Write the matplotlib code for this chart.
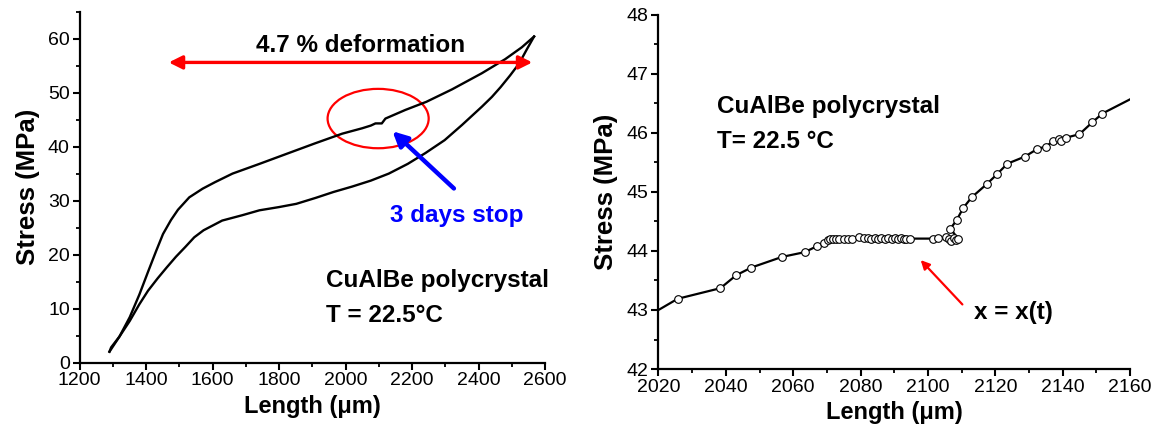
import matplotlib
matplotlib.use("Agg")
import matplotlib.pyplot as plt
from matplotlib.patches import Ellipse
from matplotlib.ticker import MultipleLocator

plt.rcParams['font.family'] = ['Liberation Sans', 'DejaVu Sans']

# ---- Left panel data: full loading / unloading cycle ----
load_x = [1290, 1320, 1351, 1380, 1406, 1430, 1451, 1475, 1496, 1530, 1570, 1607,
          1660, 1741, 1820, 1908, 1990, 2050, 2076, 2090, 2109, 2120, 2180, 2243,
          2320, 2410, 2480, 2530, 2567]
load_y = [2.0, 4.8, 8.4, 12.6, 16.8, 20.6, 23.8, 26.4, 28.3, 30.6, 32.2, 33.4,
          35.0, 36.8, 38.6, 40.6, 42.4, 43.4, 43.9, 44.3, 44.3, 45.2, 46.8, 48.3,
          50.6, 53.6, 56.2, 58.4, 60.4]
unload_x = [2567, 2545, 2522, 2495, 2466, 2440, 2410, 2350, 2298, 2240, 2187, 2130,
            2076, 2020, 1964, 1910, 1852, 1800, 1741, 1690, 1629, 1573, 1545, 1518,
            1490, 1462, 1435, 1406, 1380, 1351, 1320, 1295, 1290]
unload_y = [60.4, 58.0, 55.4, 53.2, 51.0, 49.2, 47.4, 44.0, 41.2, 38.8, 36.8, 35.0,
            33.7, 32.6, 31.6, 30.5, 29.4, 28.8, 28.2, 27.3, 26.3, 24.5, 23.2, 21.4,
            19.6, 17.6, 15.6, 13.3, 10.8, 7.7, 4.8, 2.8, 2.0]

# ---- Right panel data: zoom on the 3-day stop ----
line_x = [2020.0, 2025.7, 2038.4, 2043.1, 2047.6, 2056.7, 2063.4, 2067.0, 2069.2,
          2070.5, 2077.8, 2080.0, 2094.8, 2101.8, 2103.2, 2105.6, 2108.9, 2106.7,
          2108.5, 2110.5, 2113.0, 2117.6, 2120.5, 2123.6, 2128.8, 2132.5, 2135.0,
          2137.2, 2138.8, 2141.0, 2145.0, 2148.8, 2151.8, 2160.0]
line_y = [43.00, 43.19, 43.37, 43.59, 43.72, 43.90, 43.98, 44.08, 44.14,
          44.20, 44.20, 44.22, 44.21, 44.21, 44.22, 44.22, 44.21, 44.38,
          44.52, 44.73, 44.91, 45.14, 45.30, 45.48, 45.60, 45.73, 45.77,
          45.86, 45.89, 45.92, 45.98, 46.18, 46.33, 46.57]
pts_x = [2025.7, 2038.4, 2043.1, 2047.6, 2056.7, 2063.4, 2067.0, 2069.2,
         2070.2, 2071.0, 2071.8, 2072.6, 2073.6, 2075.0, 2076.2, 2077.6,
         2079.6, 2081.0, 2082.2, 2083.2, 2084.2, 2085.2, 2086.2, 2087.2,
         2088.2, 2089.2, 2090.2, 2091.2, 2092.0, 2092.8, 2093.6, 2094.6,
         2101.6, 2103.0, 2105.4, 2106.2, 2107.0, 2107.6, 2108.2, 2108.8,
         2106.7, 2108.5, 2110.5, 2113.0, 2117.6, 2120.5, 2123.6, 2128.8,
         2132.5, 2135.0, 2137.2, 2138.8, 2139.6, 2141.0, 2145.0, 2148.8, 2151.8]
pts_y = [43.19, 43.37, 43.59, 43.72, 43.90, 43.98, 44.08, 44.14,
         44.18, 44.20, 44.20, 44.20, 44.20, 44.20, 44.21, 44.21,
         44.23, 44.22, 44.22, 44.21, 44.22, 44.21, 44.22, 44.21,
         44.22, 44.21, 44.22, 44.21, 44.22, 44.21, 44.21, 44.20,
         44.21, 44.22, 44.24, 44.20, 44.17, 44.22, 44.19, 44.21,
         44.38, 44.52, 44.73, 44.91, 45.14, 45.30, 45.48, 45.60,
         45.73, 45.77, 45.86, 45.89, 45.87, 45.92, 45.98, 46.18, 46.33]

fig = plt.figure(figsize=(11.56, 4.33), dpi=100)
ax1 = fig.add_axes([0.0688, 0.1628, 0.4027, 0.8102])
ax2 = fig.add_axes([0.5696, 0.1478, 0.4079, 0.8176])

def style(ax):
    for s in ['top', 'right']:
        ax.spines[s].set_visible(False)
    for s in ['left', 'bottom']:
        ax.spines[s].set_linewidth(1.6)
    ax.tick_params(which='major', direction='out', length=5, width=1.5, labelsize=14, pad=2)
    ax.tick_params(which='minor', direction='out', length=3, width=1.3)

TXT = 17.5

# Left
ax1.plot(load_x, load_y, color='black', lw=1.7)
ax1.plot(unload_x, unload_y, color='black', lw=1.7)
ax1.set_xlim(1200, 2600)
ax1.set_ylim(0, 65)
ax1.xaxis.set_major_locator(MultipleLocator(200))
ax1.xaxis.set_minor_locator(MultipleLocator(100))
ax1.yaxis.set_major_locator(MultipleLocator(10))
ax1.yaxis.set_minor_locator(MultipleLocator(5))
style(ax1)
ax1.set_xlabel('Length (\u03bcm)', fontsize=17, fontweight='bold', labelpad=4)
ax1.set_ylabel('Stress (MPa)', fontsize=18.5, fontweight='bold', labelpad=6)
ax1.annotate('', xy=(1460, 55.6), xytext=(2570, 55.6),
             arrowprops=dict(arrowstyle='<|-|>', color='red', lw=2.4, mutation_scale=20))
ax1.text(2045, 58.8, '4.7 % deformation', fontsize=TXT, fontweight='bold', ha='center', va='center')
ax1.add_patch(Ellipse((2098, 45.2), 304, 11, fill=False, edgecolor='red', lw=1.6))
ax1.annotate('', xy=(2135, 43.2), xytext=(2332, 31.9),
             arrowprops=dict(arrowstyle='-|>', color='blue', lw=3.2, mutation_scale=22))
ax1.text(2335, 27.2, '3 days stop', fontsize=TXT, fontweight='bold', color='blue', ha='center', va='center')
ax1.text(1940, 15.2, 'CuAlBe polycrystal', fontsize=TXT, fontweight='bold', ha='left', va='center')
ax1.text(1940, 8.7, 'T = 22.5\u00b0C', fontsize=TXT, fontweight='bold', ha='left', va='center')

# Right
ax2.plot(line_x, line_y, color='black', lw=1.6, zorder=2)
ax2.plot(pts_x, pts_y, linestyle='none', marker='o', markersize=5.5, markerfacecolor='white',
         markeredgecolor='black', markeredgewidth=0.8, zorder=3)
ax2.set_xlim(2020, 2160)
ax2.set_ylim(42, 48)
ax2.xaxis.set_major_locator(MultipleLocator(20))
ax2.xaxis.set_minor_locator(MultipleLocator(10))
ax2.yaxis.set_major_locator(MultipleLocator(1))
ax2.yaxis.set_minor_locator(MultipleLocator(0.5))
style(ax2)
ax2.set_xlabel('Length (\u03bcm)', fontsize=17, fontweight='bold', labelpad=4)
ax2.set_ylabel('Stress (MPa)', fontsize=18.5, fontweight='bold', labelpad=6)
ax2.annotate('', xy=(2097.3, 43.88), xytext=(2110.8, 43.06),
             arrowprops=dict(arrowstyle='-|>', color='red', lw=1.6, mutation_scale=13))
ax2.text(2113.8, 42.95, 'x = x(t)', fontsize=TXT, fontweight='bold', ha='left', va='center')
ax2.text(2037.3, 46.45, 'CuAlBe polycrystal', fontsize=TXT, fontweight='bold', ha='left', va='center')
ax2.text(2037.3, 45.85, 'T= 22.5 \u00b0C', fontsize=TXT, fontweight='bold', ha='left', va='center')

fig.savefig('out.png', dpi=100)
